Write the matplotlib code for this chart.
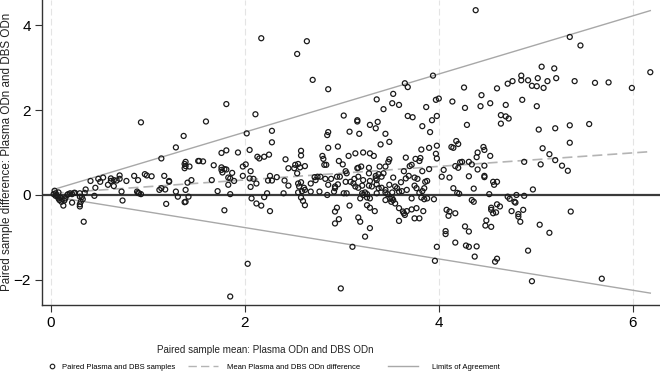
import matplotlib.pyplot as plt
from matplotlib.lines import Line2D

# paired sample mean (x) and difference (y)
mean_odn = [
    # near-zero / low range
    0.93, 1.37, 1.29, 1.14, 1.39, 1.38, 1.39, 1.43, 1.38, 1.52,
    0.41, 0.46, 0.49, 0.51, 0.54, 0.59, 0.62, 0.62, 0.65, 0.68,
    0.71, 0.71, 0.65, 0.78, 0.86, 0.90, 0.97, 0.99, 1.04, 0.73,
    0.74, 0.89, 0.90, 0.91, 0.93, 1.17, 1.22, 1.22, 1.12, 1.14,
    1.18, 1.19, 1.29, 1.31, 1.39, 1.41, 1.45, 1.42, 1.38, 1.39,
    0.45, 0.34, 0.04, 0.03, 0.05, 0.06, 0.07, 0.08, 0.09, 0.11,
    0.13, 0.15, 0.17, 0.18, 0.20, 0.22, 0.24, 0.22, 0.25, 0.30,
    0.30, 0.32, 0.35, 0.33, 0.31, 0.30, 0.30, 0.36, 0.10, 0.12,
    0.14, 0.08, 0.05,
    # 1.5 - 2.9 upper
    2.17, 2.64, 2.54, 2.70, 2.86, 1.81, 1.60, 2.11, 2.02, 2.28,
    2.28, 2.86, 2.85, 2.86, 1.76, 1.81, 1.93, 2.05, 2.13, 2.15,
    2.20, 2.25, 2.58, 2.58, 2.80, 2.81, 2.42,
    # 1.5 - 2.9 lower
    1.53, 1.57, 1.68, 1.76, 1.79, 1.76, 1.77, 1.81, 1.87, 1.83,
    1.85, 1.89, 1.66, 1.83, 1.72, 1.85, 1.79, 1.98, 2.01, 2.06,
    1.98, 2.05, 2.09, 2.12, 2.06, 2.07, 2.12, 2.17, 2.20, 2.23,
    2.26, 2.26, 2.24, 2.28, 2.33, 2.41, 2.45, 2.40, 2.45, 2.51,
    2.52, 2.55, 2.57, 2.54, 2.62, 2.55, 2.58, 2.56, 2.61, 2.59,
    2.62, 2.68, 2.55, 2.58, 2.60, 2.62, 2.68, 2.72, 2.75, 2.78,
    2.73, 2.77, 2.82, 2.84, 2.03, 1.85,
    # 2.9 - 4.2 upper
    3.65, 3.68, 3.94, 3.53, 3.36, 3.43, 3.52, 3.59, 3.87, 3.97,
    4.00, 4.14, 3.02, 3.16, 3.16, 3.37, 3.29, 3.35, 3.68, 3.73,
    3.98, 3.93, 3.83, 3.91, 3.08, 3.18, 3.45, 3.49, 3.40, 2.96,
    3.07, 3.14, 3.22, 3.29, 3.33, 3.66, 3.76, 3.81, 3.82, 3.90,
    3.98, 3.97, 4.13, 4.15, 4.18, 4.20, 3.49,
    # 2.9 - 4.2 lower
    2.97, 3.01, 3.16, 3.17, 3.20, 3.28, 3.39, 3.45, 3.48, 3.80,
    3.98, 3.04, 3.05, 3.28, 3.35, 3.38, 3.43, 3.64, 3.70, 3.72,
    3.83, 3.90, 4.05, 4.17, 4.20, 2.83, 2.89, 2.95, 2.98, 3.13,
    3.17, 3.22, 3.29, 3.35, 3.36, 3.41, 3.53, 3.61, 3.66, 3.69,
    3.75, 3.78, 3.86, 4.03, 4.11, 2.86, 2.93, 2.96, 3.04, 3.09,
    3.12, 3.14, 3.17, 3.21, 3.28, 3.31, 3.36, 3.38, 3.41, 3.45,
    3.49, 3.55, 3.57, 3.62, 3.67, 3.75, 3.77, 3.83, 3.85, 3.88,
    4.15, 2.85, 2.93, 2.92, 3.02, 3.05, 3.21, 3.22, 3.24, 3.26,
    3.36, 3.45, 3.47, 3.52, 3.59, 3.72, 3.80, 3.82, 3.85, 3.88,
    3.95, 3.19, 3.26, 3.29, 3.45, 3.50, 3.51, 3.52, 3.53, 3.55,
    3.59, 3.64, 3.65, 3.63, 3.67, 3.72, 3.77, 3.84, 4.08, 4.11,
    4.10, 4.17, 3.08, 3.26, 3.29, 3.34, 2.93, 2.95, 2.93, 2.97,
    3.17, 3.19, 3.29, 3.24, 3.59, 3.75, 3.80, 3.11, 3.98, 3.96,
    4.07, 4.07, 4.17, 2.99,
    # 4.2 - 5.6 upper
    4.38, 5.35, 5.46, 5.06, 5.19, 4.85, 4.92, 4.85, 5.02, 5.12,
    5.21, 4.71, 4.76, 4.96, 5.01, 5.08, 5.40, 4.26, 4.60, 4.44,
    4.27, 4.43, 4.53, 4.69, 4.86, 5.01, 4.64, 4.69, 4.72, 4.64,
    4.29, 5.03, 5.20, 5.35, 5.55, 5.35, 5.07, 5.14, 4.46, 4.47,
    4.40, 4.53, 4.39,
    # 4.2 - 5.6 lower
    4.22, 4.24, 4.31, 4.34, 4.40, 4.47, 4.31, 4.47, 4.47, 4.56,
    4.60, 4.57, 4.36, 4.19, 4.21, 4.52, 4.88, 5.05, 5.20, 5.27,
    5.33, 4.97, 4.71, 4.73, 4.78, 4.79, 4.80, 4.88, 4.34, 4.36,
    4.54, 4.54, 4.56, 4.59, 4.60, 4.63, 4.75, 4.82, 4.82, 4.84,
    4.87, 4.49, 4.48, 4.54, 4.27, 4.31, 5.04, 5.14, 5.36, 4.28,
    4.31, 4.39, 4.37, 4.58, 4.60, 4.92, 4.96,
    # far right
    5.61, 5.75, 5.99, 6.18, 5.68,
]

diff_odn = [
    1.71, 1.39, 1.12, 0.86, 0.78, 0.73, 0.68, 0.67, 0.63, 0.80,
    0.33, 0.17, 0.38, 0.31, 0.41, 0.24, 0.39, 0.33, 0.35, 0.34,
    0.38, 0.46, 0.21, 0.33, 0.45, 0.35, 0.49, 0.46, 0.44, 0.08,
    -0.13, 0.08, 0.05, 0.04, 0.02, 0.45, 0.33, 0.31, 0.12, 0.16,
    0.13, -0.21, 0.08, -0.04, 0.12, 0.29, 0.35, -0.04, -0.17, -0.16,
    -0.02, -0.63, 0.10, 0.02, 0.04, 0.00, -0.04, -0.08, -0.12, -0.16,
    -0.25, -0.08, 0.00, 0.02, 0.04, 0.02, 0.05, -0.18, 0.05, 0.04,
    -0.04, -0.05, 0.05, -0.10, -0.16, -0.22, -0.27, 0.13, -0.06, -0.10,
    -0.13, 0.06, -0.02,
    3.69, 3.62, 3.32, 2.71, 2.49, 2.14, 1.73, 1.90, 1.45, 1.51,
    1.24, 1.48, 1.41, 1.11, 0.99, 1.05, 1.00, 1.06, 0.90, 0.86,
    0.90, 0.95, 1.04, 0.93, 0.92, 0.85, 0.84,
    0.80, 0.79, 0.70, 0.65, 0.61, 0.59, 0.53, 0.60, 0.52, 0.41,
    0.39, 0.33, 0.35, 0.24, 0.09, 0.02, -0.36, 0.67, 0.72, 0.56,
    0.45, 0.39, 0.38, 0.27, 0.19, -0.08, -0.20, -0.25, -0.05, 0.04,
    -0.38, 0.45, 0.34, 0.34, 0.42, 0.34, 0.22, 0.04, 0.63, 0.63,
    0.71, 0.73, 0.65, 0.51, 0.68, 0.27, 0.30, 0.20, 0.17, 0.09,
    0.12, 0.27, 0.06, -0.06, -0.14, -0.24, 0.08, 0.42, 0.43, 0.43,
    0.35, 0.08, 0.71, 0.71, -1.62, -2.39,
    2.63, 2.54, 2.81, 2.38, 2.25, 2.02, 2.16, 2.12, 2.07, 2.24,
    2.27, 2.20, 1.87, 1.76, 1.73, 1.72, 1.65, 1.57, 1.86, 1.83,
    1.86, 1.76, 1.62, 1.48, 1.49, 1.44, 1.44, 1.25, 1.19, 1.14,
    0.92, 0.98, 1.00, 0.98, 0.92, 0.88, 0.85, 0.87, 1.07, 1.11,
    1.16, 0.97, 1.13, 1.11, 1.27, 1.20, 0.84,
    0.80, 0.72, 0.63, 0.64, 0.67, 0.64, 0.67, 0.67, 0.78, 0.80,
    0.86, 0.56, 0.51, 0.51, 0.45, 0.49, 0.51, 0.56, 0.68, 0.71,
    0.56, 0.61, 0.59, 0.68, 0.64, 0.38, 0.38, 0.43, 0.43, 0.38,
    0.43, 0.35, 0.33, 0.39, 0.35, 0.43, 0.41, 0.30, 0.39, 0.45,
    0.41, 0.38, 0.31, 0.43, 0.41, 0.24, 0.20, 0.25, 0.31, 0.31,
    0.27, 0.20, 0.17, 0.22, 0.22, 0.20, 0.25, 0.16, 0.17, 0.12,
    0.24, 0.20, 0.16, 0.09, 0.12, 0.22, 0.16, 0.09, 0.16, 0.33,
    0.16, 0.00, 0.16, 0.08, 0.04, 0.04, 0.04, 0.00, 0.06, 0.02,
    0.04, 0.06, 0.02, 0.06, 0.08, -0.08, 0.05, -0.06, -0.10, -0.08,
    -0.10, -0.08, -0.06, -0.08, -0.12, -0.09, -0.16, -0.08, -0.12, -0.20,
    -0.31, -0.43, -0.47, -0.39, -0.38, -0.34, -0.31, -0.38, -0.35, -0.39,
    -0.49, -0.43, -0.25, -0.24, -0.30, -0.38, -0.39, -0.30, -0.67, -0.57,
    -0.53, -0.63, -0.78, -0.98, -0.61, -0.55, -0.55, -1.22, -1.22, -1.55,
    -0.85, -0.92, -1.12, -2.20,
    4.35, 3.72, 3.52, 3.02, 2.98, 2.81, 2.70, 2.70, 2.75, 2.68,
    2.75, 2.62, 2.68, 2.57, 2.56, 2.52, 2.68, 2.53, 2.51, 2.35,
    2.05, 2.09, 2.16, 2.12, 2.24, 2.09, 1.88, 1.85, 1.80, 1.68,
    1.65, 1.54, 1.57, 1.64, 1.67, 1.23, 1.10, 0.96, 1.13, 1.06,
    1.00, 0.92, 0.89,
    0.77, 0.78, 0.78, 0.72, 0.60, 0.69, 0.44, 0.45, 0.42, 0.31,
    0.31, 0.24, 0.15, 0.05, 0.03, 0.02, 0.78, 0.72, 0.82, 0.69,
    0.57, 0.13, -0.04, -0.09, -0.16, -0.18, 0.00, -0.02, -0.12, -0.16,
    -0.30, -0.35, -0.43, -0.41, -0.22, -0.27, -0.38, -0.45, -0.51, -0.63,
    -0.35, -0.60, -0.72, -0.75, -0.74, -0.86, -0.70, -0.89, -0.39, -1.19,
    -1.22, -1.21, -1.45, -1.57, -1.50, -1.31, -2.03,
    2.64, 2.65, 2.52, 2.89, -1.97,
]

# fitted lines (end points)
line_x = [0.03, 6.18]
mean_line = [0.04, 1.02]
loa_upper = [0.13, 4.34]
loa_lower = [-0.04, -2.31]

xticks = [0, 2, 4, 6]
yticks = [-2, 0, 2, 4]

plt.rcParams['font.family'] = ['Liberation Sans', 'DejaVu Sans']

fig = plt.figure(figsize=(6.6, 3.75), dpi=100)
ax = fig.add_axes([42 / 660, 70 / 375, 618 / 660, 305 / 375])

for xv in xticks:
    ax.axvline(xv, color='#e4e4e4', lw=0.8, ls=(0, (6, 3)), zorder=0)

ax.axhline(0, color='#3a3a3a', lw=1.6, zorder=2)
ax.plot(line_x, loa_upper, color='#a8a8a8', lw=1.0, zorder=2)
ax.plot(line_x, loa_lower, color='#a8a8a8', lw=1.0, zorder=2)
ax.plot(line_x, mean_line, color='#b4b4b4', lw=1.2, dashes=(6, 3), zorder=2)

ax.scatter(mean_odn, diff_odn, s=13, facecolors='none', edgecolors='#1a1a1a',
           linewidths=0.9, zorder=3)

ax.set_xlim(-0.09, 6.28)
ax.set_ylim(-2.59, 4.59)
ax.set_xticks(xticks)
ax.set_yticks(yticks)
ax.tick_params(length=5, width=0.8, color='#333333', labelsize=11, pad=3)
for side in ['top', 'right']:
    ax.spines[side].set_visible(False)
for side in ['left', 'bottom']:
    ax.spines[side].set_color('#333333')
    ax.spines[side].set_linewidth(1.0)

fig.text(0.011, 1 - 152 / 375, 'Paired sample difference: Plasma ODn and DBS ODn',
         rotation=90, ha='center', va='center', fontsize=8.4, color='#222222')
fig.text(265 / 660, 1 - 350 / 375, 'Paired sample mean: Plasma ODn and DBS ODn',
         ha='center', va='center', fontsize=7.1, color='#222222')

# legend: three keys placed side by side like the original
leg_y = 1 - 367 / 375
keys = [
    (Line2D([], [], marker='o', ls='none', mfc='none', mec='#1a1a1a', mew=0.8, ms=3.3),
     'Paired Plasma and DBS samples', 48 / 660, 1.05, 0.8),
    (Line2D([], [], color='#b4b4b4', lw=1.0, dashes=(6, 3)),
     'Mean Plasma and DBS ODn difference', 188 / 660, 3.9, 1.2),
    (Line2D([], [], color='#a8a8a8', lw=1.0),
     'Limits of Agreement', 388 / 660, 3.9, 1.8),
]
for handle, label, x0, hlen, pad in keys:
    fig.legend([handle], [label], loc='center left', bbox_to_anchor=(x0, leg_y),
               frameon=False, fontsize=5.5, handlelength=hlen, handletextpad=pad,
               borderpad=0, borderaxespad=0)

fig.savefig('out.png', dpi=100)
